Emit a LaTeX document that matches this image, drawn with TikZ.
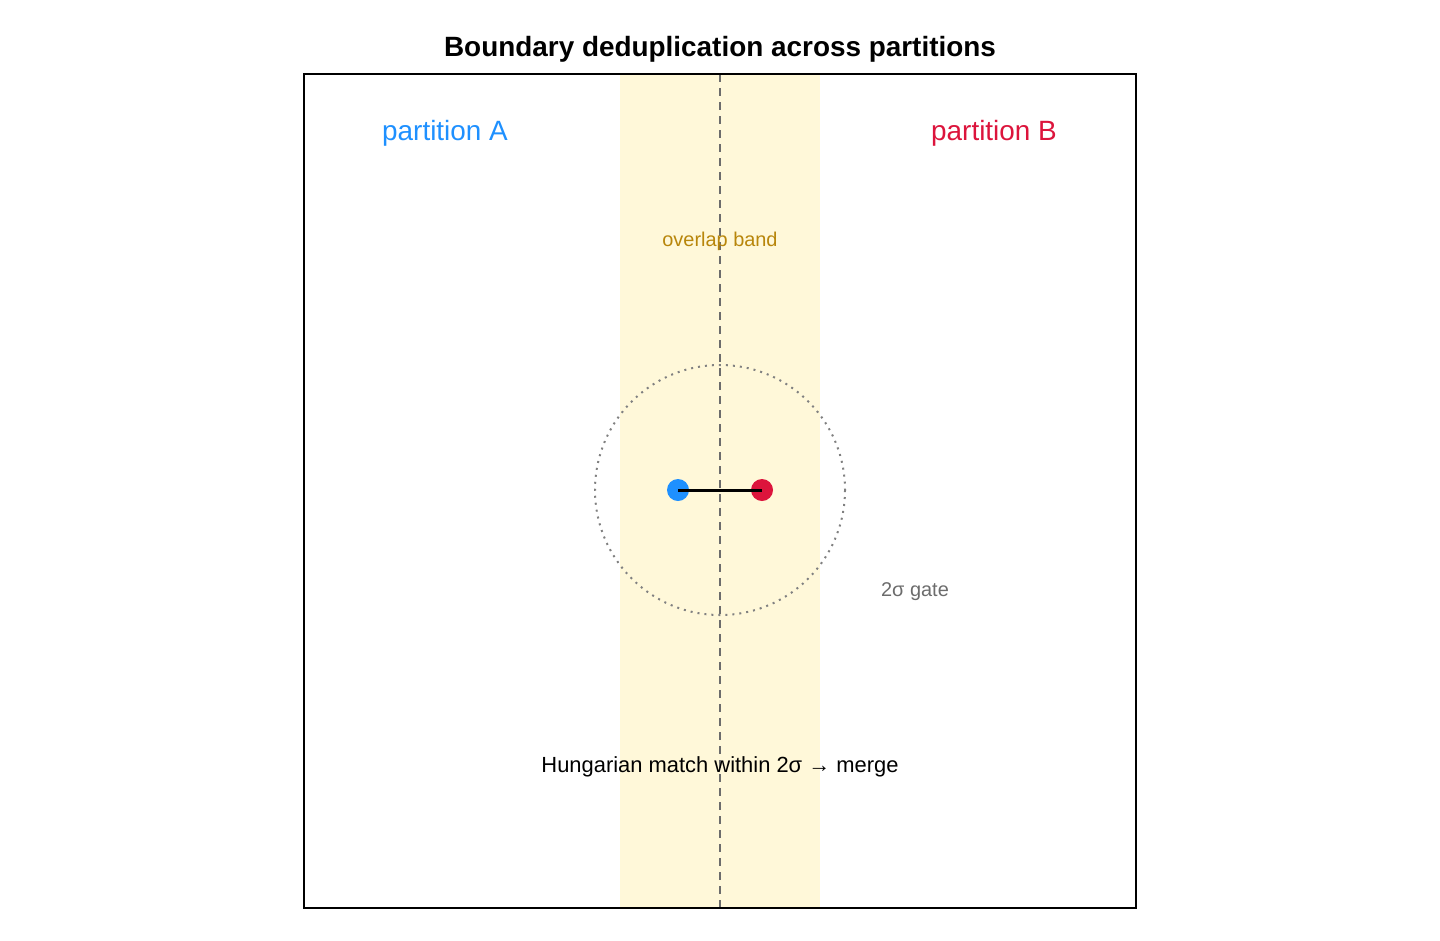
\documentclass[tikz,border=0pt]{standalone}
\usepackage{fontspec}
\setmainfont{Liberation Sans}
\definecolor{bandyellow}{HTML}{FFF8D9}
\definecolor{ablue}{HTML}{1E90FF}
\definecolor{bred}{HTML}{DC143C}
\definecolor{bandtext}{HTML}{B8860B}
\begin{document}
\begin{tikzpicture}[x=0.5bp,y=-0.5bp,
    lbl/.style={inner sep=0pt,anchor=center},
    dot/.style={circle,inner sep=0pt,minimum size=11bp}]
  \useasboundingbox (0,0) rectangle (1440,940);
  % band and divider
  \fill [bandyellow] (620,74) rectangle (820,908);
  \draw [gray!85!black,dashed,line width=1bp,dash pattern=on 4bp off 3bp] (720,74) -- (720,908);
  \draw [black,line width=0.8bp] (304,74) rectangle (1136,908);
  % gate circle
  \draw [gray,line width=1bp,dash pattern=on 1bp off 2.5bp] (720,490) circle [radius=125];
  \node [dot,fill=ablue] (pa) at (678,490) {};
  \node [dot,fill=bred] (pb) at (762,490) {};
  \draw [line width=1.5bp] (pa.center) -- (pb.center);
  % labels
  \node [lbl,font=\bfseries\fontsize{14}{16}\selectfont] (title) at (720,49) {Boundary deduplication across partitions};
  \node [lbl,text=ablue,font=\fontsize{14}{16}\selectfont] (labA) at (445,133) {partition A};
  \node [lbl,text=bred,font=\fontsize{14}{16}\selectfont] (labB) at (994,133) {partition B};
  \node [lbl,text=bandtext,font=\fontsize{10}{12}\selectfont] (band) at (720,241) {overlap band};
  \node [lbl,text=gray!85!black,font=\fontsize{10}{12}\selectfont] (gate) at (915,592) {2σ gate};
  \node [lbl,font=\fontsize{11}{13}\selectfont] (note) at (720,767) {Hungarian match within 2σ → merge};
\end{tikzpicture}
\end{document}
